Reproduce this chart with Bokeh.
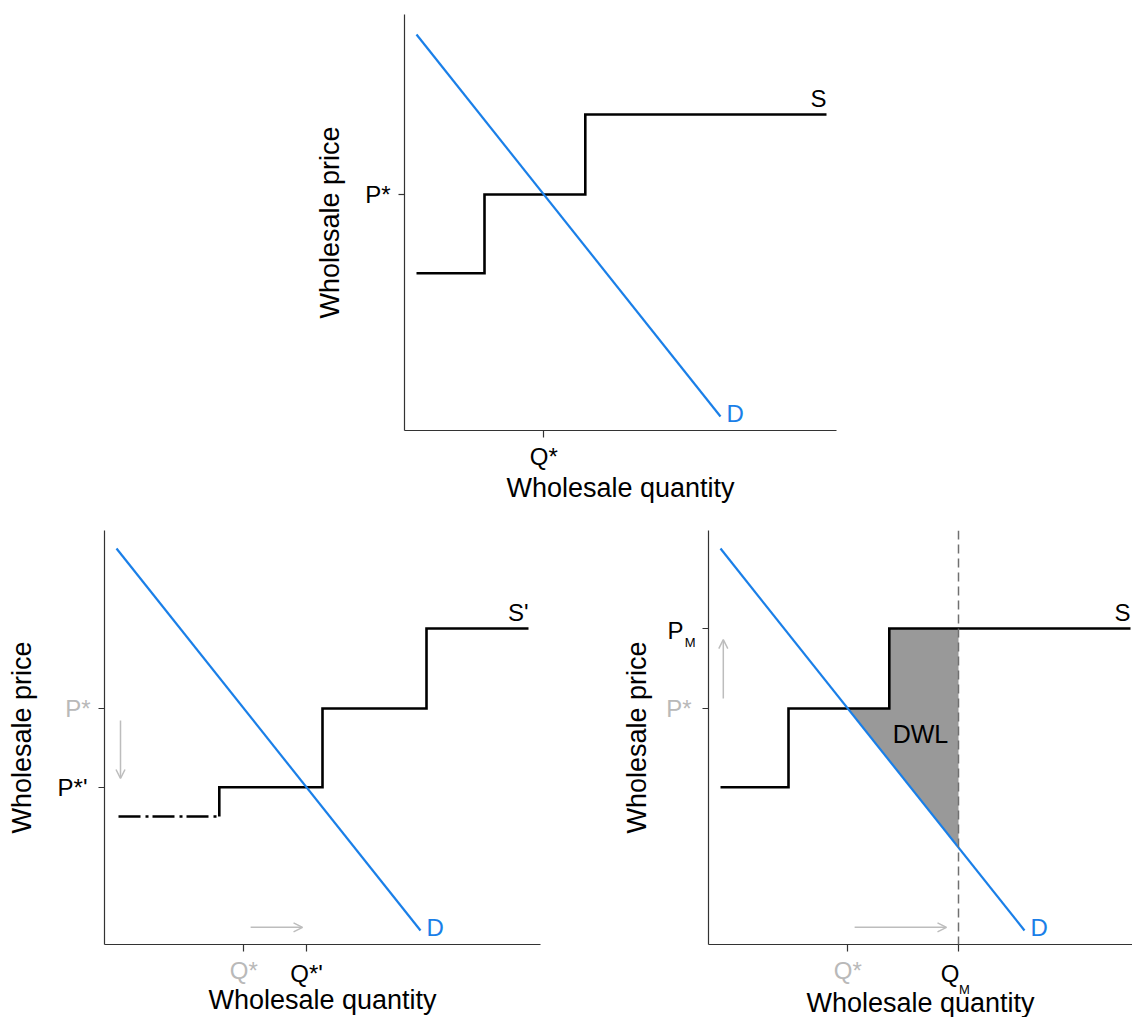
import numpy as np
from bokeh.plotting import figure
from bokeh.models import FixedTicker, LinearAxis, Arrow, OpenHead, Span, Spacer, Range1d
from bokeh.layouts import column, row
from bokeh.core.properties import value
from bokeh.embed import file_html
from bokeh.resources import INLINE

# ---------------- data ----------------
demand_q = [0.3, 7.9]
demand_p = [9.9, 0.35]

supply_q = [0.3, 2.0, 2.0, 4.52, 4.52, 10.55]
supply_p = [3.93, 3.93, 5.9, 5.9, 7.9, 7.9]

entry_q = [0.35, 2.87]
entry_p = [3.2, 3.2]
supply_new_q = [2.87, 2.87, 5.45, 5.45, 8.05, 8.05, 10.6]
supply_new_p = [3.2, 3.93, 3.93, 5.9, 5.9, 7.9, 7.9]

p_star = 5.9
p_star_new = 3.93
p_m = 7.9
q_m = 6.25


def demand_price(q):
    return float(np.interp(q, demand_q, demand_p))


def demand_qty(pr):
    return float(np.interp(pr, demand_p[::-1], demand_q[::-1]))


q_star = demand_qty(p_star)
q_star_new = demand_qty(p_star_new)

# ---------------- style ----------------
FONT = "Liberation Sans"
BLUE = "#1a7fe8"
GREY = "#b9b9b9"
AXIS = "#333333"
ARROW = "#bdbdbd"


def title_style(ax, text, standoff):
    ax.axis_label = text
    ax.axis_label_standoff = standoff
    ax.axis_label_text_font = FONT
    ax.axis_label_text_font_size = "27px"
    ax.axis_label_text_font_style = "normal"
    ax.axis_label_text_color = "black"


def make_fig(fw, fh, xend, yend, left, right, top, bottom):
    p = figure(frame_width=fw, frame_height=fh,
               x_range=Range1d(0, xend), y_range=Range1d(0, yend),
               output_backend="svg", toolbar_location=None,
               min_border_left=left, min_border_right=right,
               min_border_top=top, min_border_bottom=bottom)
    p.outline_line_color = None
    p.grid.visible = False
    for ax in p.axis:
        ax.axis_line_color = AXIS
        ax.axis_line_width = 1.2
        ax.major_tick_line_color = AXIS
        ax.major_tick_line_width = 1.2
        ax.minor_tick_line_color = None
        ax.major_tick_in = 0
        ax.major_label_text_font = FONT
        ax.major_label_text_font_size = "24px"
        ax.major_label_text_color = "black"
        ax.axis_label = None
    p.xaxis.major_tick_out = 7
    p.yaxis.major_tick_out = 6
    p.xaxis.major_label_standoff = 5
    p.yaxis.major_label_standoff = 8
    return p


def set_ticks(ax, labels, color="black"):
    ax.ticker = FixedTicker(ticks=list(labels.keys()))
    ax.major_label_overrides = labels
    ax.major_label_text_color = color


def label_axis(p, side, labels, color, standoff, size="24px", title=None, title_standoff=0):
    ax = LinearAxis(ticker=FixedTicker(ticks=list(labels.keys())),
                    major_label_overrides=labels)
    ax.axis_line_color = None
    ax.major_tick_line_color = None
    ax.minor_tick_line_color = None
    ax.major_tick_out = 0
    ax.major_tick_in = 0
    ax.major_label_standoff = standoff
    ax.major_label_text_font = FONT
    ax.major_label_text_font_size = size
    ax.major_label_text_color = color
    if title:
        title_style(ax, title, title_standoff)
    p.add_layout(ax, side)
    return ax


def curve_labels(p, s_text, s_x, s_y):
    p.text(x=[s_x], y=[s_y], text=[s_text], text_align="right", text_baseline="alphabetic",
           y_offset=-16, text_font=value(FONT), text_font_size="24px", text_color="black")
    p.text(x=[demand_q[-1]], y=[demand_p[-1]], text=["D"], text_align="left",
           text_baseline="alphabetic", x_offset=6, y_offset=-3,
           text_font=value(FONT), text_font_size="24px", text_color=BLUE)


def arrow(p, x0, y0, x1, y1):
    p.add_layout(Arrow(x_start=x0, y_start=y0, x_end=x1, y_end=y1,
                       line_color=ARROW, line_width=1.5,
                       end=OpenHead(size=9, line_color=ARROW, line_width=1.5)))


QX = "Wholesale quantity"
PY = "Wholesale price"

# ---------------- top panel ----------------
top = make_fig(432, 416, 10.8, 10.4, 100, 20, 14, 80)
set_ticks(top.xaxis[0], {q_star: "Q*"})
set_ticks(top.yaxis[0], {p_star: "P*"})
title_style(top.xaxis[0], QX, 0)
title_style(top.yaxis[0], PY, 17)
top.line(supply_q, supply_p, line_color="black", line_width=2.6, line_join="miter")
top.line(demand_q, demand_p, line_color=BLUE, line_width=2.2)
curve_labels(top, "S", supply_q[-1], supply_p[-1])

# ---------------- bottom-left panel ----------------
bl = make_fig(436, 414, 10.9, 10.35, 104, 72, 20, 73)
set_ticks(bl.xaxis[0], {q_star: "Q*", q_star_new: ""}, GREY)
set_ticks(bl.yaxis[0], {p_star_new: "", p_star: "P*"}, GREY)
label_axis(bl, "below", {q_star_new: "Q*'"}, "black", -27, title=QX, title_standoff=-5)
label_axis(bl, "left", {p_star_new: "P*'"}, "black", -25, title=PY, title_standoff=18)
bl.line(entry_q, entry_p, line_color="black", line_width=2.6, line_dash="22 5 3 4")
bl.line(supply_new_q, supply_new_p, line_color="black", line_width=2.6, line_join="miter")
bl.line(demand_q, demand_p, line_color=BLUE, line_width=2.2)
curve_labels(bl, "S'", supply_new_q[-1], supply_new_p[-1])
arrow(bl, 0.4, p_star - 0.3, 0.4, p_star_new + 0.22)
arrow(bl, q_star + 0.17, 0.43, q_star_new - 0.1, 0.43)

# ---------------- bottom-right panel ----------------
br = make_fig(424, 414, 10.6, 10.35, 96, 0, 20, 73)
set_ticks(br.xaxis[0], {q_star: "Q*", q_m: ""}, GREY)
br.yaxis[0].major_label_standoff = 0
set_ticks(br.yaxis[0], {p_star: "", p_m: ""}, GREY)
q_lab = q_m - 0.21
qm_sub = q_m + 0.15
label_axis(br, "below", {q_lab: "Q"}, "black", -27)
label_axis(br, "below", {qm_sub: "M"}, "black", -8, size="13px", title=QX, title_standoff=-12)
pm_sub = p_m - 0.34
p_lab = p_m - 0.05
label_axis(br, "left", {pm_sub: "M"}, "black", 7, size="13px")
label_axis(br, "left", {p_star: "P*"}, GREY, -10)
label_axis(br, "left", {p_lab: "P"}, "black", -20, title=PY, title_standoff=12)

dwl_x = [q_star, supply_q[3], supply_q[3], q_m, q_m]
dwl_y = [p_star, p_star, p_m, p_m, demand_price(q_m)]
br.patch(dwl_x, dwl_y, fill_color="#999999", line_color=None)
br.add_layout(Span(location=q_m, dimension="height", line_color="#707070",
                   line_width=1.5, line_dash="9 5"))
br.line(supply_q, supply_p, line_color="black", line_width=2.6, line_join="miter")
br.line(demand_q, demand_p, line_color=BLUE, line_width=2.2)
curve_labels(br, "S", supply_q[-1], supply_p[-1])
br.text(x=[5.3], y=[5.27], text=["DWL"], text_align="center", text_baseline="middle",
        text_font=value(FONT), text_font_size="25px", text_color="black")
arrow(br, 0.37, p_star + 0.25, 0.37, p_m - 0.28)
arrow(br, q_star + 0.17, 0.43, q_m - 0.3, 0.43)

layout = column(row(Spacer(width=304, height=510), top), row(bl, br))
open("out.html", "w").write(file_html(layout, INLINE))
